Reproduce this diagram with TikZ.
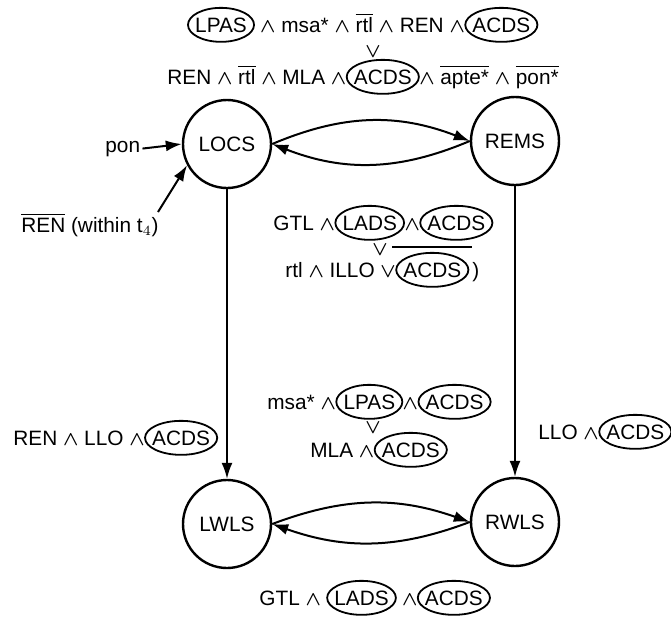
\documentclass[tikz,border=0pt]{standalone}
\usepackage{fontspec}
\setmainfont{Liberation Sans}
\usetikzlibrary{arrows.meta,calc}

% ellipse drawn round a boxed word
\newcommand\ringit[1]{\draw[ring] let \p1=($(#1.east)-(#1.west)$) in (#1.center) ellipse [x radius=0.5*\x1, y radius=8.5pt];}
% bar over a word in text
\newcommand\barred[1]{$\overline{\mbox{#1}}$}
% logical connectives, set a little heavier
\newcommand\andsym{{\boldmath$\wedge$}}
\newcommand\orsym{{\boldmath$\vee$}}

\begin{document}
\begin{tikzpicture}[x=0.5pt,y=-0.5pt,
  every node/.style={font=\fontsize{10.4}{12}\selectfont},
  state/.style={circle,draw,line width=1.2pt,minimum size=44pt,inner sep=0pt},
  txt/.style={inner sep=0pt,anchor=base west},
  word/.style={inner xsep=3.4pt,inner ysep=0pt,anchor=base west},
  ring/.style={line width=0.9pt},
  arr/.style={line width=1pt,-{Latex[length=8pt,width=5.5pt]}},
]
\fill[white] (0,0) rectangle (671,618);
\useasboundingbox (0,0) rectangle (671,618);

% states
\node[state] (LOCS) at (227,144) {LOCS};
\node[state] (REMS) at (515,141) {REMS};
\node[state] (LWLS) at (227,524) {LWLS};
\node[state] (RWLS) at (515,522) {RWLS};

% transitions
\draw[arr] (LOCS.east) to[bend left=22] (REMS.west);
\draw[arr] (REMS.west) to[bend left=22] (LOCS.east);
\draw[arr] (LWLS.east) to[bend left=20] (RWLS.west);
\draw[arr] (RWLS.west) to[bend left=20] (LWLS.east);
\draw[arr,line width=0.9pt] (LOCS) -- (LWLS);
\draw[arr,line width=0.9pt] (REMS) -- (RWLS);

% entry conditions into LOCS
\node[txt] (pon) at (105,152) {pon};
\draw[arr] ([xshift=1pt]pon.east) -- (LOCS.west);
\node[txt] (ren) at (21,232) {\barred{REN} (within t$_4$)};
\coordinate (renTail) at (158,212);
\draw[arr] (renTail) -- (LOCS.208);

% condition LOCS -> REMS
\node[word] (t1a) at (188,32) {LPAS};
\node[txt] (t1b) at (t1a.base east) {\ \andsym{} msa* \andsym{} \barred{rtl} \andsym{} REN \andsym};
\node[word] (t1c) at (t1b.base east) {ACDS};
\node (v1) at (373,52) {\orsym};
\node[txt] (t2a) at (167,84) {REN \andsym{} \barred{rtl} \andsym{} MLA \andsym};
\node[word] (t2b) at (t2a.base east) {ACDS};
\node[txt] (t2c) at (t2b.base east) {\andsym{} \barred{apte*} \andsym{} \barred{pon*}};

% condition REMS -> LOCS
\node[txt] (g1a) at (273,230) {GTL \andsym};
\node[word] (g1b) at (g1a.base east) {LADS};
\node[txt] (g1c) at (g1b.base east) {\andsym};
\node[word] (g1d) at (g1c.base east) {ACDS};
\node (v2) at (380,250) {\orsym};
\node[txt] (g2a) at (285,277) {rtl \andsym{} ILLO \orsym};
\node[word] (g2b) at (g2a.base east) {ACDS};
\node[txt] (g2c) at (g2b.base east) {\,)};
\draw[line width=0.8pt] ([xshift=-2pt,yshift=7.5pt]g2b.north west) -- ([xshift=2pt,yshift=7.5pt]g2b.north east);

% condition LWLS -> RWLS
\node[txt] (m1a) at (267,409) {msa* \andsym};
\node[word] (m1b) at (m1a.base east) {LPAS};
\node[txt] (m1c) at (m1b.base east) {\andsym};
\node[word] (m1d) at (m1c.base east) {ACDS};
\node (v3) at (373,428) {\orsym};
\node[txt] (m2a) at (310,457) {MLA \andsym};
\node[word] (m2b) at (m2a.base east) {ACDS};

% conditions on the vertical transitions
\node[txt] (l1a) at (13,445) {REN \andsym{} LLO \andsym};
\node[word] (l1b) at (l1a.base east) {ACDS};
\node[txt] (r1a) at (538,439) {LLO \andsym\ };
\node[word] (r1b) at (r1a.base east) {ACDS};

% condition RWLS -> LWLS
\node[txt] (b1a) at (259,605) {GTL \andsym\ \ };
\node[word] (b1b) at (b1a.base east) {LADS};
\node[txt] (b1c) at (b1b.base east) {\ \andsym};
\node[word] (b1d) at (b1c.base east) {ACDS};

% rings
\ringit{t1a}\ringit{t1c}\ringit{t2b}
\ringit{g1b}\ringit{g1d}\ringit{g2b}
\ringit{m1b}\ringit{m1d}\ringit{m2b}
\ringit{l1b}\ringit{r1b}
\ringit{b1b}\ringit{b1d}
\end{tikzpicture}
\end{document}
